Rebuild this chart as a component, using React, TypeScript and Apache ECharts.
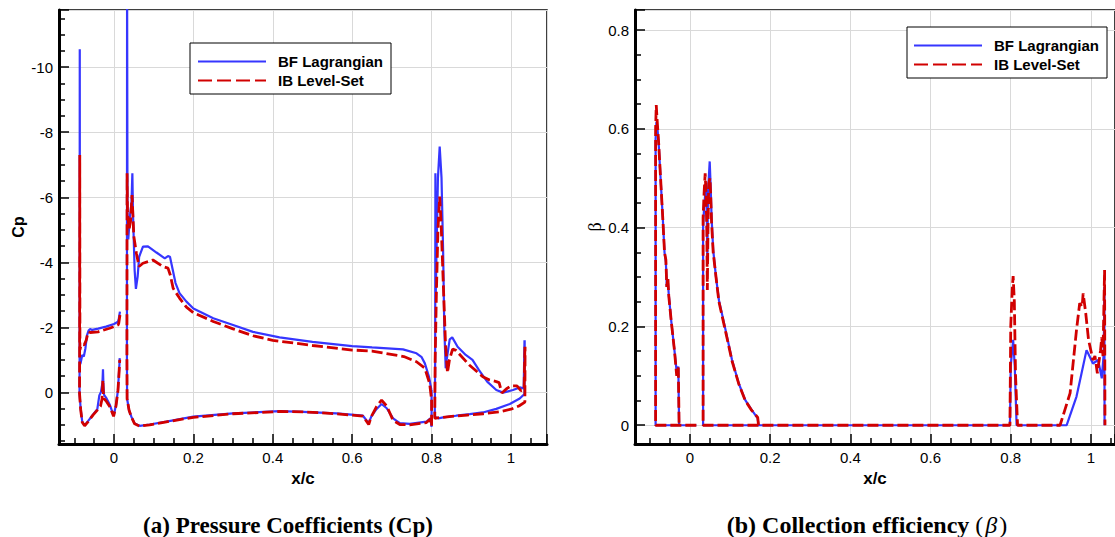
import React, { useEffect, useRef } from "react";
import * as echarts from "echarts";

// ---------- DATA ----------
const seriesNames = ["BF Lagrangian", "IB Level-Set"];

// Panel (a): pressure coefficient Cp vs x/c, each element traced as a closed path
const cpBfSlat: number[][] = [
  [0.015, -2.48], [0.012, -2.25], [0.01, -2.17], [0.0, -2.1], [-0.02, -2.02], [-0.04, -1.96],
  [-0.055, -1.92], [-0.06, -1.95], [-0.064, -1.9], [-0.068, -1.75], [-0.072, -1.35], [-0.076, -1.1],
  [-0.08, -1.15], [-0.084, -0.9], [-0.0858, -0.85], [-0.0862, -10.55], [-0.0866, -1.2], [-0.0868, 0.03],
  [-0.084, 0.5], [-0.08, 0.9], [-0.074, 1.02], [-0.065, 0.88], [-0.053, 0.69], [-0.042, 0.52],
  [-0.037, 0.1], [-0.033, 0.0], [-0.029, -0.3], [-0.0277, -0.71], [-0.0265, -0.2], [-0.025, 0.08],
  [-0.019, 0.18], [-0.01, 0.4], [-0.001, 0.72], [0.005, 0.4], [0.01, -0.07], [0.013, -0.7], [0.0145, -1.05],
];
const cpIbSlat: number[][] = [
  [0.015, -2.38], [0.012, -2.12], [0.01, -2.07], [0.0, -2.02], [-0.011, -1.97], [-0.04, -1.86],
  [-0.06, -1.84], [-0.065, -1.86], [-0.07, -1.6], [-0.075, -1.46], [-0.08, -1.48], [-0.084, -1.4],
  [-0.0858, -1.3], [-0.0862, -7.3], [-0.0866, -1.0], [-0.0868, 0.03], [-0.084, 0.52], [-0.08, 0.92],
  [-0.074, 1.03], [-0.065, 0.9], [-0.053, 0.7], [-0.042, 0.55], [-0.034, 0.43], [-0.03, 0.2],
  [-0.028, -0.38], [-0.0265, 0.1], [-0.025, 0.2], [-0.019, 0.28], [-0.01, 0.45], [-0.001, 0.74],
  [0.005, 0.42], [0.01, -0.05], [0.013, -0.65], [0.0145, -1.0],
];
const cpBfMain: number[][] = [
  [0.7995, -0.07], [0.7935, -0.48], [0.783, -0.89], [0.775, -1.08], [0.762, -1.2], [0.728, -1.32],
  [0.65, -1.38], [0.6, -1.42], [0.5, -1.55], [0.417, -1.69], [0.35, -1.86], [0.3, -2.07], [0.25, -2.28],
  [0.2, -2.58], [0.1825, -2.79], [0.165, -3.05], [0.155, -3.36], [0.1445, -3.97], [0.141, -4.17],
  [0.136, -4.19], [0.128, -4.12], [0.107, -4.3], [0.0856, -4.49], [0.073, -4.48], [0.0634, -4.17],
  [0.0596, -3.56], [0.0552, -3.18], [0.052, -3.76], [0.0479, -5.5], [0.0463, -6.74], [0.044, -5.8],
  [0.04, -5.4], [0.036, -4.7], [0.034, -5.5], [0.033, -13.0], [0.0326, -1.0], [0.033, 0.2],
  [0.038, 0.55], [0.0438, 0.75], [0.052, 0.96], [0.0646, 1.03], [0.09, 0.99], [0.132, 0.9], [0.2, 0.75],
  [0.3, 0.65], [0.417, 0.58], [0.476, 0.6], [0.56, 0.65], [0.627, 0.72], [0.6416, 0.95], [0.648, 0.75],
  [0.661, 0.52], [0.674, 0.36], [0.687, 0.49], [0.703, 0.8], [0.72, 0.95], [0.745, 0.97], [0.787, 0.9],
  [0.797, 0.8], [0.8, 1.06], [0.8, -0.07],
];
const cpIbMain: number[][] = [
  [0.799, 0.13], [0.795, -0.28], [0.783, -0.74], [0.762, -0.94], [0.73, -1.1], [0.65, -1.27],
  [0.6, -1.3], [0.5, -1.44], [0.4, -1.6], [0.35, -1.74], [0.3, -1.95], [0.25, -2.18], [0.2, -2.45],
  [0.1825, -2.62], [0.165, -2.9], [0.149, -3.2], [0.142, -3.6], [0.136, -3.82], [0.123, -3.87],
  [0.098, -4.07], [0.073, -3.97], [0.0631, -3.87], [0.0564, -4.28], [0.05, -4.8], [0.0454, -6.07],
  [0.042, -5.3], [0.038, -5.0], [0.034, -5.6], [0.033, -6.74], [0.0326, -1.2], [0.033, 0.2],
  [0.038, 0.55], [0.0438, 0.76], [0.052, 0.97], [0.0646, 1.04], [0.09, 1.0], [0.132, 0.91], [0.2, 0.77],
  [0.3, 0.66], [0.417, 0.59], [0.476, 0.6], [0.56, 0.66], [0.627, 0.73], [0.6416, 0.99], [0.648, 0.75],
  [0.661, 0.45], [0.674, 0.24], [0.687, 0.42], [0.703, 0.86], [0.72, 0.99], [0.745, 1.0], [0.787, 0.93],
  [0.797, 0.82], [0.8, 1.04], [0.8, 0.13],
];
const cpBfFlap: number[][] = [
  [1.034, -1.6], [1.032, -0.12], [1.022, -0.15], [1.005, -0.07], [0.98, 0.01], [0.963, -0.07],
  [0.94, -0.33], [0.919, -0.69], [0.903, -1.0], [0.886, -1.15], [0.8655, -1.4], [0.852, -1.69],
  [0.8456, -1.63], [0.838, -1.0], [0.8355, -0.74], [0.832, -2.0], [0.829, -4.38], [0.825, -6.6],
  [0.8204, -7.56], [0.816, -6.6], [0.812, -4.07], [0.8105, -3.0], [0.8096, -6.74], [0.809, -1.0],
  [0.808, 0.75], [0.817, 0.8], [0.829, 0.77], [0.862, 0.72], [0.896, 0.67], [0.929, 0.62], [0.963, 0.51],
  [0.997, 0.36], [1.022, 0.19], [1.034, 0.05], [1.0345, -1.6],
];
const cpIbFlap: number[][] = [
  [1.035, -1.4], [1.033, -0.1], [1.025, -0.05], [1.015, -0.2], [1.0, -0.2], [0.99, -0.12], [0.977, 0.02],
  [0.97, -0.3], [0.963, -0.33], [0.946, -0.38], [0.929, -0.48], [0.895, -0.84], [0.8615, -1.29],
  [0.853, -1.33], [0.845, -1.0], [0.84, -0.6], [0.835, -1.5], [0.829, -3.5], [0.824, -5.2],
  [0.8204, -6.02], [0.816, -5.0], [0.812, -3.0], [0.809, -1.0], [0.808, 0.8], [0.82, 0.78], [0.85, 0.74],
  [0.89, 0.7], [0.93, 0.66], [0.97, 0.6], [1.0, 0.52], [1.02, 0.42], [1.035, 0.3], [1.0355, -1.4],
];

// Panel (b): collection efficiency beta vs x/c
const betaBfSlat: number[][] = [
  [0.016, 0], [-0.0856, 0], [-0.0856, 0.58], [-0.0835, 0.614], [-0.081, 0.6], [-0.078, 0.571],
  [-0.073, 0.497], [-0.0675, 0.416], [-0.0634, 0.35], [-0.06, 0.33], [-0.0577, 0.28], [-0.055, 0.29],
  [-0.0528, 0.265], [-0.0469, 0.213], [-0.0387, 0.152], [-0.033, 0.108], [-0.029, 0.119], [-0.028, 0.12],
  [-0.027, 0],
];
const betaIbSlat: number[][] = [
  [0.016, 0], [-0.0856, 0], [-0.0856, 0.6], [-0.084, 0.648], [-0.082, 0.62], [-0.078, 0.571],
  [-0.073, 0.497], [-0.0675, 0.416], [-0.0634, 0.35], [-0.06, 0.335], [-0.0577, 0.28], [-0.055, 0.3],
  [-0.0528, 0.262], [-0.0469, 0.213], [-0.0387, 0.152], [-0.033, 0.1], [-0.029, 0.117], [-0.028, 0.118],
  [-0.027, 0],
];
const betaBfMain: number[][] = [
  [0.171, 0], [0.0328, 0], [0.0328, 0.4], [0.0353, 0.44], [0.0394, 0.48], [0.0419, 0.44], [0.0434, 0.33],
  [0.045, 0.47], [0.0493, 0.534], [0.0518, 0.48], [0.054, 0.42], [0.058, 0.355], [0.065, 0.3],
  [0.0723, 0.253], [0.0888, 0.193], [0.105, 0.132], [0.1216, 0.085], [0.138, 0.051], [0.154, 0.031],
  [0.169, 0.014], [0.171, 0], [0.798, 0], [0.8, 0.12], [0.806, 0.173], [0.81, 0.12], [0.8146, 0],
  [0.9395, 0], [0.964, 0.058], [0.9766, 0.105], [0.989, 0.152], [0.995, 0.142], [1.005, 0.125],
  [1.018, 0.132], [1.027, 0.095], [1.032, 0.146], [1.0335, 0.28], [1.034, 0],
];
const betaIbMain: number[][] = [
  [0.171, 0], [0.0328, 0], [0.0328, 0.42], [0.0353, 0.47], [0.038, 0.51], [0.04, 0.47], [0.042, 0.4],
  [0.0434, 0.274], [0.045, 0.4], [0.047, 0.49], [0.05, 0.5], [0.052, 0.46], [0.054, 0.41], [0.058, 0.35],
  [0.065, 0.3], [0.0723, 0.25], [0.0888, 0.19], [0.105, 0.13], [0.1216, 0.084], [0.138, 0.05],
  [0.154, 0.03], [0.169, 0.016], [0.171, 0], [0.798, 0], [0.8, 0.2], [0.804, 0.28], [0.806, 0.302],
  [0.809, 0.25], [0.812, 0.1], [0.817, 0], [0.923, 0], [0.948, 0.065], [0.964, 0.193], [0.972, 0.247],
  [0.978, 0.24], [0.9806, 0.267], [0.987, 0.227], [0.994, 0.173], [1.005, 0.132], [1.01, 0.14],
  [1.016, 0.105], [1.024, 0.152], [1.027, 0.178], [1.03, 0.14], [1.034, 0.314], [1.035, 0],
];

// ---------- STYLE ----------
const BLUE = "#3636ff";
const RED = "#d10000";
const SANS = "Liberation Sans, Arial, sans-serif";
const SERIF = "Liberation Serif, Times New Roman, serif";

function line(name: string, data: number[][], idx: number, blue: boolean) {
  return {
    type: "line",
    name,
    data,
    xAxisIndex: idx,
    yAxisIndex: idx,
    symbol: "none",
    showSymbol: false,
    clip: true,
    animation: false,
    lineStyle: blue
      ? { color: BLUE, width: 2.2, type: "solid" }
      : { color: RED, width: 2.8, type: [11, 4] },
    itemStyle: { color: blue ? BLUE : RED },
    emphasis: { disabled: true },
  };
}

function xAxis(gridIndex: number, min: number, max: number, splitNumber: number) {
  return {
    type: "value",
    gridIndex,
    min,
    max,
    splitNumber,
    name: "x/c",
    nameLocation: "middle",
    nameGap: 17,
    nameTextStyle: { fontFamily: SANS, fontWeight: "bold", fontSize: 17, color: "#000" },
    axisLine: { onZero: false, lineStyle: { color: "#000", width: 3 } },
    axisTick: { inside: true, length: 10, lineStyle: { color: "#000", width: 1.5 } },
    minorTick: { show: true, splitNumber: 4, length: 6, lineStyle: { color: "#000", width: 1.5 } },
    axisLabel: { margin: 6, fontSize: 15, color: "#000", fontFamily: SANS, showMinLabel: false, showMaxLabel: false },
    splitLine: { show: true, lineStyle: { color: "#d9d9d9", width: 1 } },
  };
}

function yAxis(gridIndex: number, min: number, max: number, splitNumber: number, extra: any) {
  return {
    type: "value",
    gridIndex,
    min,
    max,
    splitNumber,
    nameLocation: "middle",
    nameRotate: 90,
    axisLine: { onZero: false, lineStyle: { color: "#000", width: 3 } },
    axisTick: { inside: true, length: 10, lineStyle: { color: "#000", width: 1.5 } },
    minorTick: { show: true, splitNumber: 4, length: 6, lineStyle: { color: "#000", width: 1.5 } },
    axisLabel: { margin: 6, fontSize: 15, color: "#000", fontFamily: SANS, showMinLabel: false, showMaxLabel: false },
    splitLine: { show: true, lineStyle: { color: "#d9d9d9", width: 1 } },
    ...extra,
  };
}

function legend(left: number, top: number, padLeft: number) {
  return {
    orient: "vertical",
    left,
    top,
    padding: [11, 8, 6, padLeft],
    itemGap: 4,
    itemWidth: 68,
    itemHeight: 14,
    borderColor: "#000",
    borderWidth: 1,
    backgroundColor: "#fff",
    selectedMode: false,
    itemStyle: { opacity: 0, borderWidth: 0 },
    textStyle: { fontFamily: SANS, fontWeight: "bold", fontSize: 15, color: "#000", padding: [0, 0, 0, 7] },
    data: [
      { name: seriesNames[0] },
      { name: seriesNames[1], lineStyle: { type: [14, 5] } },
    ],
  };
}

export default function App() {
  const ref = useRef<HTMLDivElement>(null);
  useEffect(() => {
    if (!ref.current) return;
    const chart = echarts.init(ref.current, null, { renderer: "svg" });
    chart.setOption({
      animation: false,
      backgroundColor: "#fff",
      grid: [
        { left: 59, top: 10, width: 488, height: 434, show: true, borderColor: "#000", borderWidth: 1.5, containLabel: false },
        { left: 635, top: 10, width: 485.5, height: 434, show: true, borderColor: "#000", borderWidth: 1.5, containLabel: false },
      ],
      xAxis: [xAxis(0, -0.1385, 1.0907, 6), xAxis(1, -0.137, 1.06, 5)],
      yAxis: [
        yAxis(0, -11.76, 1.59, 7, {
          inverse: true,
          name: "Cp",
          nameGap: 33,
          nameTextStyle: { fontFamily: SANS, fontWeight: "bold", fontSize: 16, color: "#000" },
        }),
        yAxis(1, -0.038, 0.8405, 4, {
          name: "β",
          nameGap: 29,
          nameTextStyle: { fontFamily: SERIF, fontWeight: "normal", fontSize: 18, color: "#000" },
        }),
      ],
      legend: [legend(190, 43, 7), legend(907, 27, 6)],
      series: [
        line(seriesNames[0], cpBfSlat, 0, true),
        line(seriesNames[0], cpBfMain, 0, true),
        line(seriesNames[0], cpBfFlap, 0, true),
        line(seriesNames[0], betaBfSlat, 1, true),
        line(seriesNames[0], betaBfMain, 1, true),
        line(seriesNames[1], cpIbSlat, 0, false),
        line(seriesNames[1], cpIbMain, 0, false),
        line(seriesNames[1], cpIbFlap, 0, false),
        line(seriesNames[1], betaIbSlat, 1, false),
        line(seriesNames[1], betaIbMain, 1, false),
      ],
      graphic: [
        {
          type: "text",
          x: 288,
          y: 525,
          style: {
            text: "(a) Pressure Coefficients (Cp)",
            fontFamily: SERIF,
            fontWeight: "bold",
            fontSize: 23,
            fill: "#000",
            align: "center",
            verticalAlign: "middle",
          },
        },
        {
          type: "text",
          x: 867,
          y: 525,
          style: {
            text: "(b) Collection efficiency {m|(}{i|β}{m|)}",
            fontFamily: SERIF,
            fontWeight: "bold",
            fontSize: 24,
            fill: "#000",
            align: "center",
            verticalAlign: "middle",
            rich: {
              m: { fontFamily: SERIF, fontWeight: "normal", fontSize: 24, fill: "#000" },
              i: { fontFamily: SERIF, fontWeight: "normal", fontStyle: "italic", fontSize: 24, fill: "#000", padding: [0, 2, 0, 2] },
            },
          },
        },
      ],
    });
    return () => chart.dispose();
  }, []);
  return (
    <div
      ref={ref}
      style={{ position: "absolute", left: 0, top: 0, width: 1115, height: 537, background: "#fff" }}
    />
  );
}
